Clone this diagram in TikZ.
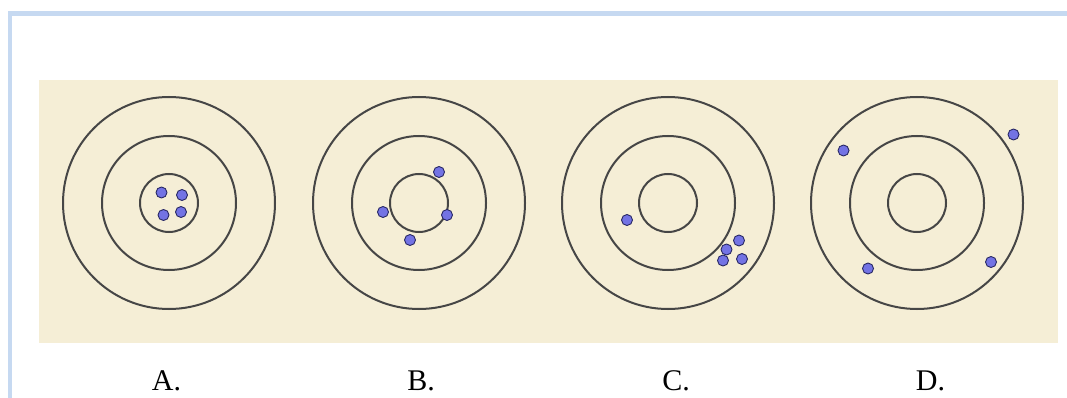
\documentclass[tikz,border=0pt]{standalone}
\usepackage{fontspec}
\setmainfont{Liberation Serif}
\definecolor{framecol}{RGB}{198,217,241}
\definecolor{beige}{RGB}{245,238,214}
\definecolor{ringcol}{RGB}{70,70,70}
\definecolor{dotfill}{RGB}{115,115,228}
\definecolor{dotedge}{RGB}{40,40,100}
\tikzset{
  ring/.style={draw=ringcol, line width=2pt},
  shot/.style={circle, fill=dotfill, draw=dotedge, line width=0.9pt, minimum size=11pt, inner sep=0pt},
  lbl/.style={font=\fontsize{30}{36}\selectfont, anchor=base}
}
\newcommand{\target}[2]{%
  \draw[ring] (#1,#2) circle (106);
  \draw[ring] (#1,#2) circle (67);
  \draw[ring] (#1,#2) circle (29);
}
\begin{document}
\begin{tikzpicture}[x=1pt,y=-1pt]
\useasboundingbox (0,0) rectangle (1067,398);
\fill[white] (0,0) rectangle (1067,398);
% frame
\draw[framecol, line width=4.5pt] (10,398) -- (10,13.5) -- (1067,13.5);
% background panel
\fill[beige] (39,80) rectangle (1058,343);
% targets
\target{169}{203}
\target{419}{203}
\target{668}{203}
\target{917}{203}
% A shots
\node[shot] (a1) at (161.5,192.5) {};
\node[shot] (a2) at (182,195) {};
\node[shot] (a3) at (163.5,215) {};
\node[shot] (a4) at (181,212) {};
% B shots
\node[shot] (b1) at (439,172) {};
\node[shot] (b2) at (383,212) {};
\node[shot] (b3) at (447,215) {};
\node[shot] (b4) at (410,240) {};
% C shots
\node[shot] (c1) at (627,220) {};
\node[shot] (c2) at (739,240.5) {};
\node[shot] (c3) at (726.5,249.5) {};
\node[shot] (c4) at (723,260.5) {};
\node[shot] (c5) at (742,259) {};
% D shots
\node[shot] (d1) at (843.5,150.5) {};
\node[shot] (d2) at (1013.5,134.5) {};
\node[shot] (d3) at (868,268.5) {};
\node[shot] (d4) at (991,262) {};
% labels
\node[lbl] (la) at (166.5,390) {A.};
\node[lbl] (lb) at (421,390) {B.};
\node[lbl] (lc) at (676,390) {C.};
\node[lbl] (ld) at (930.5,390) {D.};
\end{tikzpicture}
\end{document}
